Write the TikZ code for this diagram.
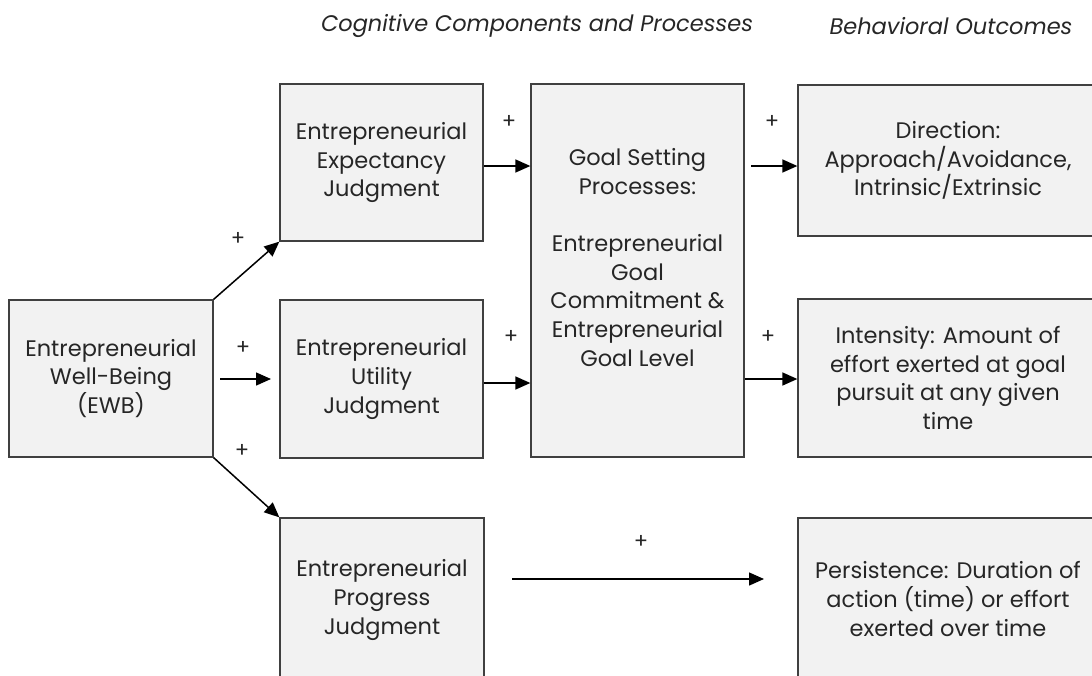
\documentclass[tikz,border=0pt]{standalone}
\usepackage{fontspec}
\setmainfont{Poppins}
\usetikzlibrary{arrows.meta}

\definecolor{boxfill}{HTML}{F2F2F2}
\definecolor{boxline}{HTML}{404040}
\definecolor{ink}{HTML}{262626}

\newcommand{\diagfont}{\fontsize{22.5}{28.6}\selectfont}

\tikzset{
  panel/.style={draw=boxline, fill=boxfill, line width=1.3pt, align=center,
    inner sep=0pt, text=ink, font=\diagfont},
  plain/.style={align=center, inner sep=0pt, text=ink, font=\diagfont},
  heading/.style={inner sep=0pt, text=ink, font=\diagfont\itshape},
  sign/.style={inner sep=0pt, text=ink, font=\fontsize{21}{24}\selectfont},
  link/.style={draw=black, line width=1.5pt,
    -{Triangle[length=15pt,width=13pt]}},
}

\begin{document}
\begin{tikzpicture}[x=1pt,y=-1pt]
  \useasboundingbox (0,0) rectangle (1092,675);
  \clip (0,0) rectangle (1092,675);
  \fill[white] (0,0) rectangle (1092,675);

  % column headings
  \node[heading] (hcog) at (537,26) {Cognitive Components and Processes};
  \node[heading] (hbeh) at (951,26) {Behavioral Outcomes};

  % boxes
  \node[panel, minimum width=204pt, minimum height=157pt] (ewb) at (111,378.5)
    {Entrepreneurial\\Well-Being\\(EWB)};
  \node[panel, minimum width=203pt, minimum height=157pt] (exp) at (381.5,162.5)
    {Entrepreneurial\\Expectancy\\Judgment};
  \node[panel, minimum width=203pt, minimum height=158pt] (util) at (381.5,379)
    {Entrepreneurial\\Utility\\Judgment};
  \node[panel, minimum width=204pt, minimum height=164pt] (prog) at (382,600)
    {Entrepreneurial\\Progress\\Judgment};
  \node[panel, minimum width=213pt, minimum height=373pt] (goal) at (637.5,270.5) {};
  \node[plain] (goaltext) at (637.5,257.5)
    {Goal Setting\\Processes:\\[28.6pt]Entrepreneurial\\Goal\\Commitment \&\\Entrepreneurial\\Goal Level};
  \node[panel, minimum width=300pt, minimum height=151pt] (dir) at (948,160.5)
    {Direction:\\Approach/Avoidance,\\Intrinsic/Extrinsic};
  \node[panel, minimum width=300pt, minimum height=158pt] (int) at (948,378)
    {Intensity: Amount of\\effort exerted at goal\\pursuit at any given\\time};
  \node[panel, minimum width=300pt, minimum height=162pt] (pers) at (948,599)
    {Persistence: Duration of\\action (time) or effort\\exerted over time};

  % rows of the horizontal links and free ends
  \coordinate (rowA) at (0,166);
  \coordinate (rowB) at (0,383);
  \coordinate (rowC) at (0,379);
  \coordinate (dirstart) at (751,166);
  \coordinate (ewbout) at (220,379);
  \coordinate (utilin) at (271,379);
  \coordinate (progout) at (512,579);
  \coordinate (persin) at (764,579);

  % links
  \draw[link] (ewb.north east) -- (exp.south west);
  \draw[link] (ewbout) -- (utilin);
  \draw[link] (ewb.south east) -- (prog.north west);
  \draw[link] (exp.east |- rowA) -- (goal.west |- rowA);
  \draw[link] (util.east |- rowB) -- (goal.west |- rowB);
  \draw[link] (dirstart) -- (dir.west |- rowA);
  \draw[link] (goal.east |- rowC) -- (int.west |- rowC);
  \draw[link] (progout) -- (persin);

  % signs
  \node[sign] (s1) at (238,239) {+};
  \node[sign] (s2) at (243,348) {+};
  \node[sign] (s3) at (242,451) {+};
  \node[sign] (s4) at (509,122) {+};
  \node[sign] (s5) at (772,122) {+};
  \node[sign] (s6) at (511,337) {+};
  \node[sign] (s7) at (768,337) {+};
  \node[sign] (s8) at (641,542) {+};
\end{tikzpicture}
\end{document}
